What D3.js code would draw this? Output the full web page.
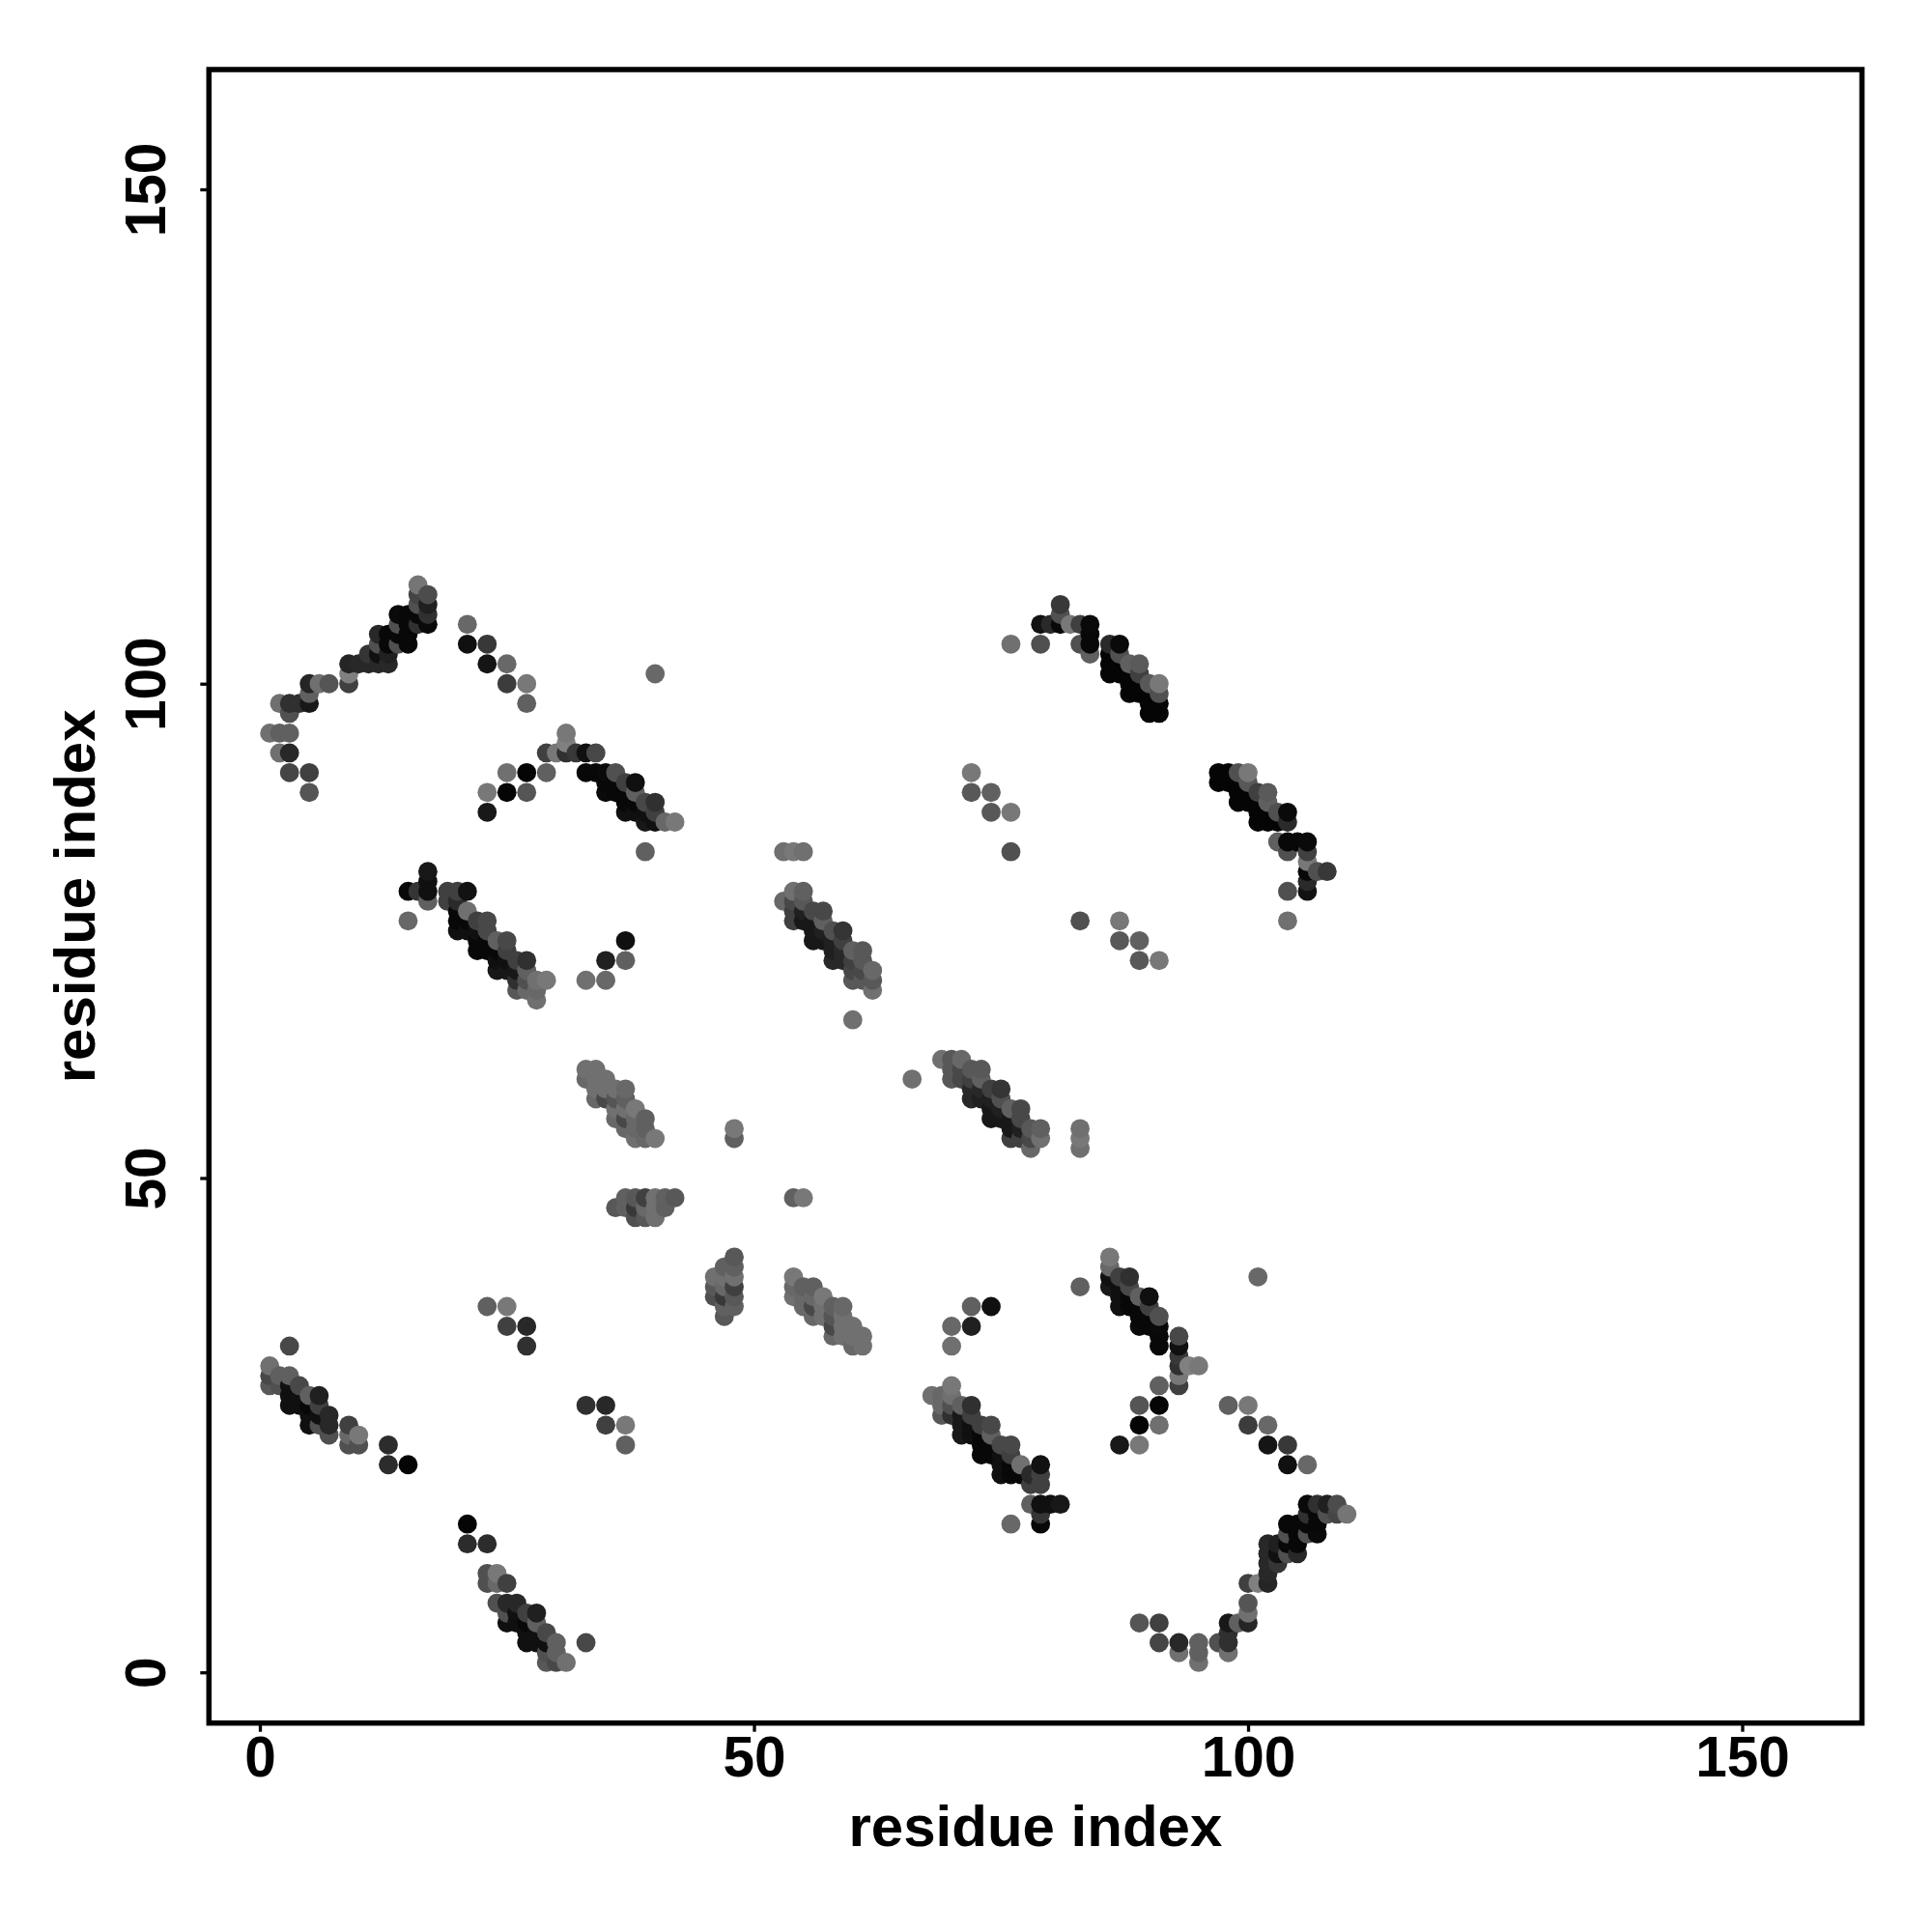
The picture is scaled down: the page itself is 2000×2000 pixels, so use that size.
<!DOCTYPE html>
<html><head><meta charset="utf-8">
<script src="https://cdn.jsdelivr.net/npm/d3@7/dist/d3.min.js"></script>
<style>html,body{margin:0;background:#fff}svg{display:block}</style></head>
<body><div id="chart"></div>
<script>
// contacts [i, j, shade] with i<j; the map is symmetric, so each is also drawn as [j, i].
const sheetA = [[1,95,0x70],[2,93,0x70],[2,95,0x60],[2,98,0x70],[3,91,0x45],[3,93,0x28],[3,95,0x60],[3,97,0x50],[3,98,0x30],[4,98,0x30],
[5,89,0x55],[5,91,0x40],[5,98,0x18],[5,99,0x60],[5,100,0x25],[6,100,0x70],[7,100,0x55],[9,100,0x40],[9,101,0x80],[9,102,0x25],[10,102,0x28],
[11,102,0x28],[11,103,0x35],[12,102,0x28],[12,103,0x10],[12,104,0x50],[12,105,0x28],[13,102,0x28],[13,103,0x20],[13,104,0x08],[13,105,0x08],
[14,104,0x50],[14,105,0x08],[14,106,0x50],[14,107,0x0a],[15,104,0x08],[15,105,0x08],[15,106,0x08],[15,107,0x08],
[16,106,0x30],[16,107,0x08],[16,108,0x50],[16,109,0x45],[16,110,0x75],[17,106,0x0a],[17,107,0x30],[17,108,0x20],[17,109,0x4c]];
const sheetB = [[21,104,0x10],[21,106,0x68],[23,102,0x15],[23,104,0x38],[25,100,0x3c],[25,102,0x68],[27,98,0x60],[27,100,0x78],[40,101,0x68]];
const sheetC = [[23,87,0x18],[23,89,0x78],[25,89,0x05],[25,91,0x70],[27,89,0x55],[27,91,0x05],[29,91,0x60],
[29,93,0x40],[30,93,0x78],[31,93,0x30],[31,94,0x80],[31,95,0x78],[32,93,0x38],[33,91,0x08],[33,93,0x10],[34,91,0x08],[34,93,0x48],
[35,89,0x0a],[35,90,0x08],[35,91,0x0a],[36,89,0x08],[36,90,0x08],[36,91,0x50],[37,87,0x10],[37,88,0x08],[37,89,0x08],[37,90,0x40],
[38,87,0x10],[38,88,0x08],[38,89,0x60],[38,90,0x10],[39,86,0x18],[39,87,0x10],[39,88,0x48],[40,86,0x10],[40,87,0x40],[40,88,0x30],
[41,86,0x68],[42,86,0x78],[39,83,0x60]];
const sheetD = [[15,76,0x68],[15,79,0x08],[16,79,0x35],[17,78,0x60],[17,79,0x10],[17,80,0x10],[17,81,0x18],[19,78,0x40],[19,79,0x40],
[20,75,0x10],[20,76,0x08],[20,77,0x08],[20,78,0x2a],[20,79,0x40],[21,75,0x10],[21,76,0x08],[21,77,0x70],[21,79,0x12],
[22,73,0x08],[22,74,0x08],[22,75,0x10],[22,76,0x40],[23,73,0x08],[23,74,0x08],[23,75,0x48],[23,76,0x48],
[24,71,0x18],[24,72,0x10],[24,73,0x08],[24,74,0x60],[25,71,0x18],[25,72,0x10],[25,73,0x40],[25,74,0x48],
[26,69,0x58],[26,70,0x30],[26,71,0x18],[26,72,0x40],[27,69,0x68],[27,70,0x50],[27,71,0x60],[27,72,0x30],
[28,68,0x70],[28,69,0x68],[28,70,0x70],[29,70,0x78]];
const sheetE = [[33,70,0x70],[35,70,0x68],[35,72,0x20],[37,72,0x60],[37,74,0x10],[23,37,0x60],[25,37,0x78],[25,35,0x40],[27,35,0x28],[27,33,0x30]];
const sheetF = [[53,78,0x68],[54,76,0x40],[54,77,0x40],[54,78,0x48],[54,79,0x70],[55,76,0x18],[55,77,0x20],[55,78,0x58],[55,79,0x60],
[56,74,0x18],[56,75,0x18],[56,76,0x18],[56,77,0x48],[57,74,0x18],[57,75,0x20],[57,76,0x60],[57,77,0x48],
[58,72,0x28],[58,73,0x20],[58,74,0x20],[58,75,0x50],[59,72,0x28],[59,73,0x28],[59,74,0x40],[59,75,0x35],
[60,70,0x58],[60,71,0x48],[60,72,0x40],[60,73,0x60],[61,70,0x58],[61,71,0x48],[61,72,0x58],[61,73,0x58],
[62,69,0x70],[62,70,0x58],[62,71,0x68],[60,66,0x70],[53,83,0x70],[54,83,0x78],[55,83,0x70],[76,83,0x50],
[72,89,0x58],[72,91,0x78],[74,87,0x58],[74,89,0x60],[76,87,0x78]];
const sheetG = [[33,60,0x68],[33,61,0x70],[34,58,0x68],[34,59,0x70],[34,60,0x70],[34,61,0x70],[35,58,0x48],[35,59,0x70],[35,60,0x70],
[36,56,0x68],[36,57,0x70],[36,58,0x55],[36,59,0x70],[37,55,0x68],[37,56,0x48],[37,57,0x70],[37,58,0x60],[37,59,0x68],
[38,54,0x70],[38,55,0x68],[38,56,0x68],[38,57,0x78],[39,54,0x68],[39,55,0x60],[39,56,0x60],[40,54,0x78]];
const sheetH = [[36,47,0x58],[37,47,0x60],[37,48,0x60],[38,46,0x50],[38,47,0x38],[38,48,0x58],[39,46,0x58],[39,47,0x68],[39,48,0x40],
[40,46,0x70],[40,47,0x70],[40,48,0x70],[41,47,0x60],[41,48,0x60],[42,48,0x58],[48,54,0x60],[48,55,0x78]];
const sheetJ = [[1,29,0x58],[1,30,0x48],[1,31,0x70],[2,29,0x50],[2,30,0x60],[3,27,0x10],[3,28,0x10],[3,29,0x10],[3,30,0x60],[3,33,0x48],
[4,27,0x10],[4,28,0x10],[4,29,0x48],[5,25,0x10],[5,26,0x10],[5,27,0x08],[5,28,0x60],[6,25,0x50],[6,26,0x10],[6,27,0x40],[6,28,0x20],
[7,24,0x50],[7,25,0x28],[7,26,0x28],[9,23,0x50],[9,24,0x68],[9,25,0x40],[10,23,0x50],[10,24,0x78],[13,21,0x2c],[13,23,0x2c],[15,21,0x05]];
const sheetK = [[79,104,0x50],[79,106,0x12],[80,106,0x2a],[81,106,0x08],[81,107,0x50],[81,108,0x38],[82,106,0x78],[83,104,0x50],[83,106,0x40],
[84,103,0x60],[84,104,0x08],[84,105,0x08],[84,106,0x0a],[76,104,0x70],[86,101,0x05],[86,102,0x05],[86,103,0x05],[86,104,0x2a],
[87,101,0x05],[87,102,0x05],[87,103,0x50],[87,104,0x0a],[88,99,0x05],[88,100,0x05],[88,101,0x05],[88,102,0x60],
[89,99,0x05],[89,100,0x05],[89,101,0x40],[89,102,0x5a],[90,97,0x05],[90,98,0x05],[90,99,0x05],[90,100,0x58],
[91,97,0x05],[91,98,0x05],[91,99,0x50],[91,100,0x78]];
const sheets = [sheetA, sheetB, sheetC, sheetD, sheetE, sheetF, sheetG, sheetH, sheetJ, sheetK];

const xTicks = [0, 50, 100, 150];
const yTicks = [0, 50, 100, 150];
const axisTitle = "residue index";

const W = 2000, H = 2000;
const frame = {left: 216.3, right: 1927.5, top: 72, bottom: 1783.7};
const x = d3.scaleLinear().domain([0, 150]).range([269, 1803.5]);
const y = d3.scaleLinear().domain([0, 150]).range([1731.2, 196]);
const shade = d3.scaleLinear().domain([0, 255]).range(["#000000", "#ffffff"]);

const contacts = sheets.flat()
  .flatMap(([i, j, s]) => [{x: i, y: j, s}, {x: j, y: i, s}])
  .sort((a, b) => d3.ascending(a.x, b.x) || d3.ascending(a.y, b.y));

const svg = d3.select("#chart").append("svg").attr("width", W).attr("height", H)
  .attr("font-family", "'Liberation Sans', Arial, sans-serif").attr("font-weight", "bold");

svg.append("g").selectAll("circle").data(contacts).join("circle")
  .attr("cx", d => x(d.x)).attr("cy", d => y(d.y)).attr("r", 9.9)
  .attr("fill", d => shade(d.s));

svg.append("rect").attr("x", frame.left).attr("y", frame.top)
  .attr("width", frame.right - frame.left).attr("height", frame.bottom - frame.top)
  .attr("fill", "none").attr("stroke", "#000").attr("stroke-width", 5.5);

const gx = svg.append("g").attr("transform", `translate(0,${frame.bottom})`)
  .call(d3.axisBottom(x).tickValues(xTicks).tickSize(9).tickPadding(10));
gx.select(".domain").remove();
gx.selectAll("line").attr("stroke", "#000").attr("stroke-width", 3.3);
gx.selectAll("text").attr("font-size", 58.5).attr("font-weight", "bold").attr("fill", "#000")
  .attr("font-family", "'Liberation Sans', Arial, sans-serif")
  .attr("dy", null).attr("y", 55.5);

const gy = svg.append("g").attr("transform", `translate(${frame.left},0)`)
  .call(d3.axisLeft(y).tickValues(yTicks).tickSize(9));
gy.select(".domain").remove();
gy.selectAll("line").attr("stroke", "#000").attr("stroke-width", 3.3);
gy.selectAll("text").attr("font-size", 58.5).attr("font-weight", "bold").attr("fill", "#000")
  .attr("font-family", "'Liberation Sans', Arial, sans-serif")
  .attr("x", null).attr("dy", null).attr("y", null)
  .attr("text-anchor", "middle")
  .attr("transform", function() { return `translate(-45.6,0) rotate(-90)`; });

svg.append("text").attr("x", (frame.left + frame.right) / 2).attr("y", 1911)
  .attr("text-anchor", "middle").attr("font-size", 60).attr("fill", "#000").text(axisTitle);
svg.append("text").attr("text-anchor", "middle").attr("font-size", 60).attr("fill", "#000")
  .attr("transform", `translate(98,${(frame.top + frame.bottom) / 2}) rotate(-90)`).text(axisTitle);
</script></body></html>
